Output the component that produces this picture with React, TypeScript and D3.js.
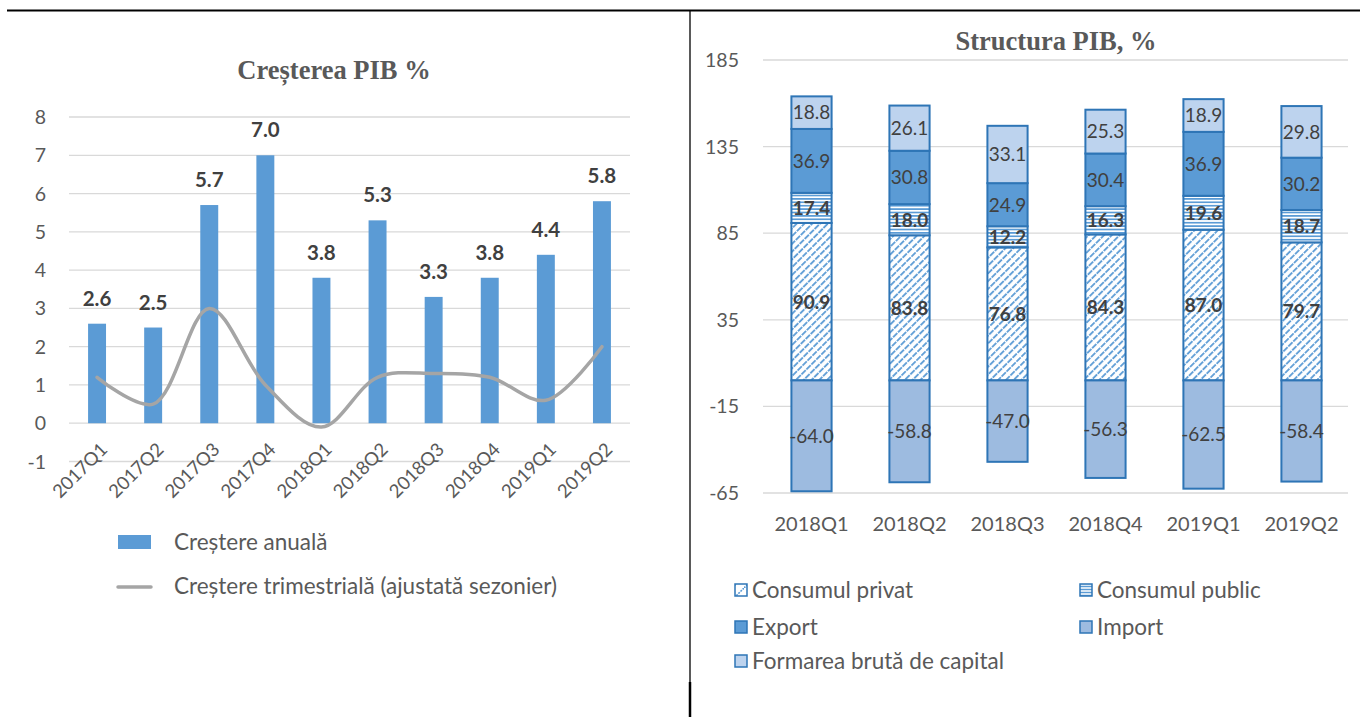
import React from "react";
import * as d3 from "d3";

// ---------- Left chart data ----------
const quarters1 = ["2017Q1","2017Q2","2017Q3","2017Q4","2018Q1","2018Q2","2018Q3","2018Q4","2019Q1","2019Q2"];
const annualGrowth = [2.6, 2.5, 5.7, 7.0, 3.8, 5.3, 3.3, 3.8, 4.4, 5.8];
const quarterlyGrowth = [1.2, 0.5, 3.0, 1.0, -0.1, 1.2, 1.3, 1.2, 0.6, 2.0];
const leftTicks = [-1, 0, 1, 2, 3, 4, 5, 6, 7, 8];

// ---------- Right chart data ----------
const quarters2 = ["2018Q1","2018Q2","2018Q3","2018Q4","2019Q1","2019Q2"];
const consumPrivat = [90.9, 83.8, 76.8, 84.3, 87.0, 79.7];
const consumPublic = [17.4, 18.0, 12.2, 16.3, 19.6, 18.7];
const exportV = [36.9, 30.8, 24.9, 30.4, 36.9, 30.2];
const formare = [18.8, 26.1, 33.1, 25.3, 18.9, 29.8];
const importV = [-64.0, -58.8, -47.0, -56.3, -62.5, -58.4];
const rightTicks = [-65, -15, 35, 85, 135, 185];

const FONT = "Lato, 'Open Sans', sans-serif";
const SERIF = "'Liberation Serif', 'DejaVu Serif', serif";
const TXT = "#595959";
const LBL = "#404040";
const GRID = "#d9d9d9";
const BLUE = "#5b9bd5";
const EDGE = "#2e75b6";
const IMPORT = "#9dbbe0";
const FORM = "#bdd3ee";

function LeftChart() {
  const x = d3.scaleBand().domain(quarters1).range([69, 630]).paddingInner(0.68).paddingOuter(0.34);
  const y = d3.scaleLinear().domain([-1, 8]).range([461.5, 117]);
  const bw = x.bandwidth();
  const pts: [number, number][] = quarters1.map((q, i) => [x(q)! + bw / 2, y(quarterlyGrowth[i])]);
  const line = d3.line().curve(d3.curveCatmullRom.alpha(0.5))(pts) || "";
  return (
    <g>
      <text x={334} y={79} textAnchor="middle" fontFamily={SERIF} fontWeight="bold" fontSize={26.5} fill={TXT}>Creșterea PIB %</text>
      {leftTicks.map((t) => (
        <g key={t}>
          <line x1={69} x2={630} y1={y(t)} y2={y(t)} stroke={GRID} strokeWidth={1.3} />
          <text x={46} y={y(t)} dy="0.36em" textAnchor="end" fontFamily={FONT} fontSize={19.5} fill={TXT}>{t}</text>
        </g>
      ))}
      {quarters1.map((q, i) => (
        <g key={q}>
          <rect x={x(q)} y={y(Math.max(0, annualGrowth[i]))} width={bw} height={Math.abs(y(annualGrowth[i]) - y(0))} fill={BLUE} />
          <text x={x(q)! + bw / 2} y={y(annualGrowth[i]) - 18} textAnchor="middle" fontFamily={FONT} fontWeight="bold" fontSize={20.5} fill={LBL}>{annualGrowth[i].toFixed(1)}</text>
          <text transform={`translate(${x(q)! + bw / 2 + 7},${446}) rotate(-45)`} textAnchor="end" dy="0.35em" fontFamily={FONT} fontSize={18.5} fill={TXT}>{q}</text>
        </g>
      ))}
      <path d={line} fill="none" stroke="#a5a5a5" strokeWidth={3.5} strokeLinecap="round" />
      <rect x={118} y={535} width={33} height={14} fill={BLUE} />
      <text x={174} y={542} dy="0.35em" fontFamily={FONT} fontSize={22.5} fill={TXT}>Creștere anuală</text>
      <line x1={118} x2={151} y1={587} y2={587} stroke="#a5a5a5" strokeWidth={3.5} strokeLinecap="round" />
      <text x={174} y={586} dy="0.35em" fontFamily={FONT} fontSize={22.5} fill={TXT}>Creștere trimestrială (ajustată sezonier)</text>
    </g>
  );
}

function RightChart() {
  const x = d3.scaleBand().domain(quarters2).range([763, 1350]).paddingInner(0.59).paddingOuter(0.29);
  const y = d3.scaleLinear().domain([-65, 185]).range([493, 60]);
  const bw = x.bandwidth();
  const posSeries = [
    { name: "Consumul privat", vals: consumPrivat, fill: "url(#diag)", bold: true },
    { name: "Consumul public", vals: consumPublic, fill: "url(#horiz)", bold: true },
    { name: "Export", vals: exportV, fill: BLUE, bold: false },
    { name: "Formarea brută de capital", vals: formare, fill: FORM, bold: false },
  ];
  const stackData = quarters2.map((q, i) => {
    const o: any = { q };
    posSeries.forEach((s) => (o[s.name] = s.vals[i]));
    return o;
  });
  const stacked = d3.stack().keys(posSeries.map((s) => s.name))(stackData);
  const legend = [
    { name: "Consumul privat", fill: "url(#diagL)", x: 735, y: 590 },
    { name: "Consumul public", fill: "url(#horizL)", x: 1080, y: 590 },
    { name: "Export", fill: BLUE, x: 735, y: 627 },
    { name: "Import", fill: IMPORT, x: 1080, y: 627 },
    { name: "Formarea brută de capital", fill: FORM, x: 735, y: 661 },
  ];
  return (
    <g>
      <text x={1056} y={50} textAnchor="middle" fontFamily={SERIF} fontWeight="bold" fontSize={26.5} fill={TXT}>Structura PIB, %</text>
      {rightTicks.map((t) => (
        <g key={t}>
          <line x1={763} x2={1348} y1={y(t)} y2={y(t)} stroke={GRID} strokeWidth={1.3} />
          <text x={739} y={y(t)} dy="0.36em" textAnchor="end" fontFamily={FONT} fontSize={19.5} fill={TXT}>{t}</text>
        </g>
      ))}
      {stacked.map((layer, li) => (
        <g key={layer.key}>
          {layer.map((d, i) => {
            const s = posSeries[li];
            const top = y(d[1]);
            const bot = y(d[0]);
            return (
              <g key={i}>
                <rect x={x(quarters2[i])} y={top} width={bw} height={bot - top} fill={s.fill} stroke={EDGE} strokeWidth={2} />
                <text x={x(quarters2[i])! + bw / 2} y={(top + bot) / 2} dy="0.36em" textAnchor="middle" fontFamily={FONT} fontWeight={s.bold ? "bold" : "normal"} fontSize={19} fill={LBL}>{s.vals[i].toFixed(1)}</text>
              </g>
            );
          })}
        </g>
      ))}
      {quarters2.map((q, i) => (
        <g key={q}>
          <rect x={x(q)} y={y(0)} width={bw} height={y(importV[i]) - y(0)} fill={IMPORT} stroke={EDGE} strokeWidth={2} />
          <text x={x(q)! + bw / 2} y={(y(0) + y(importV[i])) / 2} dy="0.36em" textAnchor="middle" fontFamily={FONT} fontSize={19} fill={LBL}>{importV[i].toFixed(1)}</text>
          <text x={x(q)! + bw / 2} y={524} dy="0.35em" textAnchor="middle" fontFamily={FONT} fontSize={20} fill={TXT}>{q}</text>
        </g>
      ))}
      {legend.map((l) => (
        <g key={l.name}>
          <rect x={l.x} y={l.y - 6} width={12} height={12} fill={l.fill} stroke={EDGE} strokeWidth={1.5} />
          <text x={l.x + 17} y={l.y} dy="0.35em" fontFamily={FONT} fontSize={22.5} fill={TXT}>{l.name}</text>
        </g>
      ))}
    </g>
  );
}

export default function App() {
  return (
    <svg width={1360} height={717} style={{ position: "absolute", left: 0, top: 0, background: "#fff" }}>
      <defs>
        <pattern id="diag" width={5.5} height={7} patternUnits="userSpaceOnUse" patternTransform="rotate(45)">
          <rect width={5.5} height={7} fill="#fff" />
          <line x1={1} y1={0} x2={1} y2={7} stroke={BLUE} strokeWidth={1.8} strokeDasharray="6 1" />
        </pattern>
        <pattern id="horiz" width={6} height={3.4} patternUnits="userSpaceOnUse">
          <rect width={6} height={3.4} fill="#fff" />
          <line x1={0} y1={1.7} x2={6} y2={1.7} stroke={BLUE} strokeWidth={1.7} />
        </pattern>
        <pattern id="diagL" width={12} height={12} patternUnits="userSpaceOnUse">
          <rect width={12} height={12} fill="#fff" />
          <line x1={0} y1={12} x2={12} y2={0} stroke={BLUE} strokeWidth={1.6} strokeDasharray="2 1" />
        </pattern>
        <pattern id="horizL" width={6} height={3} patternUnits="userSpaceOnUse">
          <rect width={6} height={3} fill="#fff" />
          <line x1={0} y1={1.5} x2={6} y2={1.5} stroke={BLUE} strokeWidth={1.5} />
        </pattern>
      </defs>
      <rect width={1360} height={717} fill="#fff" />
      <line x1={7} x2={1360} y1={10.5} y2={10.5} stroke="#000" strokeWidth={2} />
      <line x1={690} x2={690} y1={10} y2={682} stroke="#000" strokeWidth={1.3} />
      <line x1={690} x2={690} y1={682} y2={717} stroke="#000" strokeWidth={2.5} />
      <LeftChart />
      <RightChart />
    </svg>
  );
}
